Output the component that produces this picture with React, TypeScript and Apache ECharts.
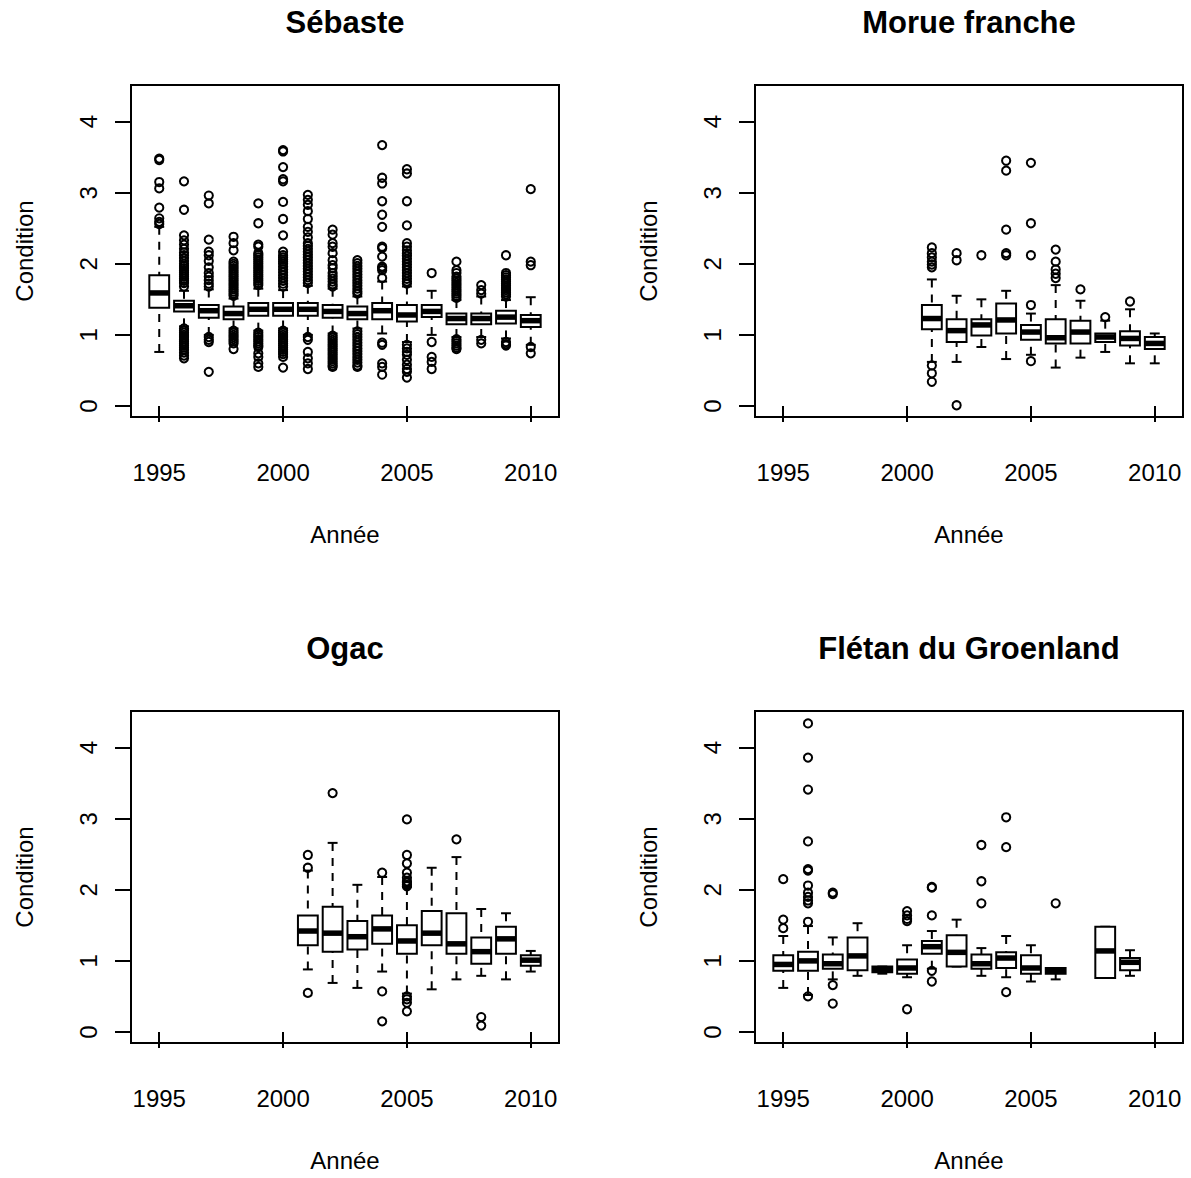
import React, { useEffect, useRef } from "react";
import * as echarts from "echarts";

// ---------- Data ----------
// stats per year: [lower whisker, Q1, median, Q3, upper whisker]

const sebasteYears = [1995, 1996, 1997, 1998, 1999, 2000, 2001, 2002, 2003, 2004, 2005, 2006, 2007, 2008, 2009, 2010];
const sebasteStats = [
  [0.76, 1.38, 1.59, 1.84, 2.52],
  [1.12, 1.33, 1.41, 1.48, 1.62],
  [1.0, 1.24, 1.34, 1.42, 1.64],
  [1.09, 1.22, 1.3, 1.4, 1.51],
  [1.06, 1.27, 1.36, 1.45, 1.65],
  [1.09, 1.27, 1.36, 1.45, 1.63],
  [1.0, 1.27, 1.36, 1.45, 1.69],
  [1.02, 1.24, 1.33, 1.42, 1.65],
  [1.09, 1.22, 1.3, 1.4, 1.54],
  [1.02, 1.22, 1.34, 1.45, 1.75],
  [0.9, 1.19, 1.28, 1.42, 1.68],
  [1.0, 1.25, 1.33, 1.42, 1.62],
  [0.97, 1.15, 1.23, 1.3, 1.49],
  [0.97, 1.15, 1.23, 1.3, 1.54],
  [0.95, 1.16, 1.25, 1.34, 1.49],
  [0.86, 1.11, 1.2, 1.28, 1.53],
];
const sebasteOutliers = [
  [3.48, 3.46, 3.15, 3.06, 2.79, 2.64, 2.59, 2.56],
  [3.16, 2.76, 2.4, 2.33, 2.27, 2.21, 2.16, 2.12, 2.08, 2.04, 2.0, 1.97, 1.94, 1.91, 1.88, 1.85, 1.82, 1.79, 1.76, 1.73, 1.68, 1.09, 1.06, 1.03, 1.0, 0.97, 0.94, 0.91, 0.88, 0.85, 0.82, 0.79, 0.75, 0.71, 0.67],
  [2.96, 2.85, 2.34, 2.17, 2.12, 2.04, 1.95, 1.87, 1.82, 1.77, 1.72, 1.68, 0.97, 0.93, 0.9, 0.48],
  [2.38, 2.29, 2.19, 2.03, 2.0, 1.97, 1.94, 1.91, 1.88, 1.85, 1.82, 1.79, 1.76, 1.73, 1.7, 1.67, 1.64, 1.61, 1.58, 1.55, 1.06, 1.03, 1.0, 0.97, 0.94, 0.91, 0.88, 0.8],
  [2.85, 2.57, 2.27, 2.24, 2.15, 2.12, 2.09, 2.06, 2.03, 2.0, 1.97, 1.94, 1.91, 1.88, 1.85, 1.82, 1.79, 1.76, 1.73, 1.7, 1.03, 1.0, 0.97, 0.94, 0.91, 0.88, 0.85, 0.83, 0.74, 0.69, 0.6, 0.55],
  [3.6, 3.58, 3.36, 3.19, 3.16, 2.87, 2.63, 2.4, 2.17, 2.12, 2.09, 2.06, 2.03, 2.0, 1.96, 1.92, 1.88, 1.84, 1.8, 1.76, 1.72, 1.68, 1.06, 1.03, 1.0, 0.97, 0.94, 0.91, 0.88, 0.85, 0.82, 0.79, 0.76, 0.73, 0.69, 0.54],
  [2.97, 2.9, 2.83, 2.74, 2.63, 2.52, 2.45, 2.37, 2.29, 2.25, 2.21, 2.17, 2.13, 2.09, 2.05, 2.01, 1.97, 1.93, 1.89, 1.85, 1.81, 1.77, 1.73, 0.97, 0.93, 0.76, 0.67, 0.6, 0.52],
  [2.48, 2.41, 2.29, 2.24, 2.15, 2.05, 1.98, 1.94, 1.87, 1.83, 1.79, 1.75, 1.71, 1.68, 0.99, 0.96, 0.93, 0.9, 0.87, 0.84, 0.81, 0.78, 0.75, 0.72, 0.69, 0.66, 0.63, 0.6, 0.57, 0.55],
  [2.05, 2.01, 1.97, 1.93, 1.89, 1.85, 1.81, 1.77, 1.73, 1.69, 1.65, 1.61, 1.58, 1.05, 1.01, 0.97, 0.93, 0.89, 0.85, 0.81, 0.77, 0.73, 0.69, 0.65, 0.61, 0.57, 0.55],
  [3.67, 3.21, 3.13, 2.88, 2.69, 2.52, 2.24, 2.22, 2.1, 1.96, 1.94, 1.91, 1.8, 0.89, 0.86, 0.6, 0.55, 0.44],
  [3.33, 3.27, 2.88, 2.54, 2.29, 2.24, 2.19, 2.15, 2.11, 2.07, 2.03, 1.99, 1.95, 1.91, 1.87, 1.83, 1.79, 1.75, 1.72, 0.86, 0.81, 0.76, 0.72, 0.65, 0.58, 0.52, 0.48, 0.4],
  [1.87, 0.9, 0.69, 0.62, 0.52],
  [2.03, 1.91, 1.87, 1.82, 1.79, 1.76, 1.73, 1.7, 1.67, 1.64, 1.61, 1.58, 1.55, 1.52, 0.94, 0.91, 0.88, 0.85, 0.82, 0.8],
  [1.7, 1.63, 1.58, 0.93, 0.88],
  [2.12, 1.87, 1.84, 1.81, 1.78, 1.75, 1.72, 1.69, 1.66, 1.63, 1.6, 1.57, 1.54, 0.9, 0.87, 0.85],
  [3.05, 2.03, 1.98, 0.83, 0.74],
];

const morueYears = [2001, 2002, 2003, 2004, 2005, 2006, 2007, 2008, 2009, 2010];
const morueStats = [
  [0.62, 1.08, 1.23, 1.42, 1.78],
  [0.62, 0.9, 1.06, 1.22, 1.55],
  [0.83, 0.99, 1.14, 1.22, 1.5],
  [0.66, 1.02, 1.21, 1.44, 1.62],
  [0.72, 0.93, 1.04, 1.14, 1.3],
  [0.54, 0.88, 0.96, 1.22, 1.7],
  [0.68, 0.88, 1.04, 1.2, 1.48],
  [0.76, 0.9, 0.97, 1.02, 1.2],
  [0.6, 0.85, 0.95, 1.05, 1.36],
  [0.6, 0.8, 0.88, 0.97, 1.02],
];
const morueOutliers = [
  [2.23, 2.15, 2.09, 2.03, 1.99, 1.95, 0.57, 0.46, 0.34],
  [2.15, 2.05, 0.01],
  [2.12],
  [3.45, 3.31, 2.48, 2.15, 2.12],
  [3.42, 2.57, 2.12, 1.42, 0.63],
  [2.2, 2.03, 1.92, 1.86, 1.8],
  [1.64],
  [1.25],
  [1.47],
  [],
];

const ogacYears = [2001, 2002, 2003, 2004, 2005, 2006, 2007, 2008, 2009, 2010];
const ogacStats = [
  [0.88, 1.22, 1.42, 1.64, 2.27],
  [0.69, 1.13, 1.39, 1.76, 2.66],
  [0.62, 1.16, 1.34, 1.56, 2.07],
  [0.85, 1.24, 1.45, 1.64, 2.18],
  [0.54, 1.1, 1.28, 1.5, 2.04],
  [0.6, 1.22, 1.39, 1.7, 2.31],
  [0.74, 1.1, 1.24, 1.67, 2.46],
  [0.79, 0.96, 1.13, 1.33, 1.73],
  [0.74, 1.1, 1.31, 1.48, 1.67],
  [0.85, 0.93, 1.01, 1.08, 1.14],
];
const ogacOutliers = [
  [2.49, 2.31, 0.55],
  [3.36],
  [],
  [2.24, 0.57, 0.15],
  [2.99, 2.49, 2.37, 2.24, 2.17, 2.12, 2.1, 2.07, 2.05, 0.5, 0.46, 0.41, 0.29],
  [],
  [2.71],
  [0.21, 0.09],
  [],
  [],
];

const fletanYears = [1995, 1996, 1997, 1998, 1999, 2000, 2001, 2002, 2003, 2004, 2005, 2006, 2008, 2009];
const fletanStats = [
  [0.62, 0.86, 0.95, 1.08, 1.35],
  [0.52, 0.86, 1.0, 1.13, 1.49],
  [0.74, 0.89, 0.96, 1.09, 1.33],
  [0.79, 0.87, 1.07, 1.33, 1.53],
  [0.82, 0.84, 0.88, 0.92, 0.92],
  [0.77, 0.82, 0.9, 1.02, 1.22],
  [0.89, 1.1, 1.2, 1.28, 1.42],
  [0.92, 0.92, 1.12, 1.36, 1.58],
  [0.79, 0.89, 0.96, 1.09, 1.18],
  [0.77, 0.9, 1.04, 1.12, 1.35],
  [0.71, 0.82, 0.9, 1.08, 1.22],
  [0.74, 0.82, 0.86, 0.9, 0.9],
  [0.76, 0.76, 1.14, 1.48, 1.48],
  [0.79, 0.87, 0.98, 1.04, 1.15],
];
const fletanOutliers = [
  [2.15, 1.58, 1.46],
  [4.34, 3.86, 3.41, 2.68, 2.29, 2.27, 2.06, 1.96, 1.9, 1.85, 1.81, 1.55, 0.5],
  [1.96, 1.94, 0.66, 0.4],
  [],
  [],
  [1.7, 1.64, 1.59, 1.56, 0.32],
  [2.04, 2.03, 1.64, 0.86, 0.71],
  [],
  [2.63, 2.12, 1.81],
  [3.02, 2.6, 0.56],
  [],
  [1.81],
  [],
  [],
];

const panelTitles = ["Sébaste", "Morue franche", "Ogac", "Flétan du Groenland"];
const xTickValues = [1995, 2000, 2005, 2010];
const yTickValues = [0, 1, 2, 3, 4];
const xAxisTitle = "Année";
const yAxisTitle = "Condition";

// ---------- Layout ----------
const FONT = '"Liberation Sans", Arial, Helvetica, sans-serif';
const grids = [
  { left: 131, top: 85, width: 428, height: 332 },
  { left: 755, top: 85, width: 428, height: 332 },
  { left: 131, top: 711, width: 428, height: 332 },
  { left: 755, top: 711, width: 428, height: 332 },
];
const X_MIN = 1993.86;
const X_MAX = 2011.14;
const Y_MIN = -0.155;
const Y_MAX = 4.515;

const panels = [
  { years: sebasteYears, stats: sebasteStats, outliers: sebasteOutliers },
  { years: morueYears, stats: morueStats, outliers: morueOutliers },
  { years: ogacYears, stats: ogacStats, outliers: ogacOutliers },
  { years: fletanYears, stats: fletanStats, outliers: fletanOutliers },
];

function renderBox(params: any, api: any) {
  const x = api.value(0);
  const lo = api.value(1);
  const q1 = api.value(2);
  const med = api.value(3);
  const q3 = api.value(4);
  const hi = api.value(5);
  const w = api.size([0.8, 0])[0];
  const pLo = api.coord([x, lo]);
  const pQ1 = api.coord([x, q1]);
  const pMed = api.coord([x, med]);
  const pQ3 = api.coord([x, q3]);
  const pHi = api.coord([x, hi]);
  const cx = pLo[0];
  const half = w / 2;
  const st = w / 4;
  const black = "#000";
  return {
    type: "group",
    children: [
      {
        type: "line",
        shape: { x1: cx, y1: pHi[1], x2: cx, y2: pQ3[1] },
        style: { stroke: black, lineWidth: 2, lineDash: [8, 7] },
      },
      {
        type: "line",
        shape: { x1: cx, y1: pLo[1], x2: cx, y2: pQ1[1] },
        style: { stroke: black, lineWidth: 2, lineDash: [8, 7] },
      },
      {
        type: "line",
        shape: { x1: cx - st, y1: pHi[1], x2: cx + st, y2: pHi[1] },
        style: { stroke: black, lineWidth: 2 },
      },
      {
        type: "line",
        shape: { x1: cx - st, y1: pLo[1], x2: cx + st, y2: pLo[1] },
        style: { stroke: black, lineWidth: 2 },
      },
      {
        type: "rect",
        shape: { x: cx - half, y: pQ3[1], width: w, height: pQ1[1] - pQ3[1] },
        style: { fill: "#fff", stroke: black, lineWidth: 2 },
      },
      {
        type: "line",
        shape: { x1: cx - half, y1: pMed[1], x2: cx + half, y2: pMed[1] },
        style: { stroke: black, lineWidth: 5.5 },
      },
    ],
  };
}

export default function App() {
  const ref = useRef<HTMLDivElement>(null);

  useEffect(() => {
    if (!ref.current) return;
    const chart = echarts.init(ref.current, null, { renderer: "svg" });

    const titles = panelTitles.map((t, i) => ({
      text: t,
      left: grids[i].left + grids[i].width / 2,
      top: grids[i].top - 78,
      textAlign: "center",
      padding: 0,
      textStyle: { fontFamily: FONT, fontSize: 31, fontWeight: "bold", color: "#000" },
    }));

    const xAxes = grids.map((_, i) => ({
      type: "value",
      gridIndex: i,
      min: X_MIN,
      max: X_MAX,
      splitLine: { show: false },
      axisLine: { show: false },
      axisTick: {
        show: true,
        inside: false,
        length: 16,
        customValues: xTickValues,
        lineStyle: { color: "#000", width: 2 },
      },
      axisLabel: {
        show: true,
        customValues: xTickValues,
        formatter: (v: number) => String(Math.round(v)),
        fontFamily: FONT,
        fontSize: 24,
        color: "#000",
        margin: 43,
      },
      name: xAxisTitle,
      nameLocation: "middle",
      nameGap: 105,
      nameTextStyle: { fontFamily: FONT, fontSize: 24, color: "#000" },
    }));

    const yAxes = grids.map((_, i) => ({
      type: "value",
      gridIndex: i,
      min: Y_MIN,
      max: Y_MAX,
      splitLine: { show: false },
      axisLine: { show: false },
      axisTick: {
        show: true,
        inside: false,
        length: 16,
        customValues: yTickValues,
        lineStyle: { color: "#000", width: 2 },
      },
      axisLabel: {
        show: true,
        customValues: yTickValues,
        formatter: (v: number) => String(Math.round(v)),
        rotate: 90,
        fontFamily: FONT,
        fontSize: 24,
        color: "#000",
        margin: 31,
      },
      name: yAxisTitle,
      nameLocation: "middle",
      nameRotate: 90,
      nameGap: 95,
      nameTextStyle: { fontFamily: FONT, fontSize: 24, color: "#000" },
    }));

    const series: any[] = [];
    panels.forEach((p, i) => {
      series.push({
        type: "custom",
        xAxisIndex: i,
        yAxisIndex: i,
        renderItem: renderBox,
        encode: { x: 0, y: [1, 2, 3, 4, 5] },
        data: p.years.map((y, k) => [y, ...p.stats[k]]),
        silent: true,
      });
      const pts: number[][] = [];
      p.years.forEach((y, k) => {
        p.outliers[k].forEach((v) => pts.push([y, v]));
      });
      series.push({
        type: "scatter",
        xAxisIndex: i,
        yAxisIndex: i,
        symbol: "circle",
        symbolSize: 8.2,
        data: pts,
        silent: true,
        itemStyle: { color: "rgba(0,0,0,0)", borderColor: "#000", borderWidth: 2, opacity: 1 },
      });
    });

    chart.setOption({
      animation: false,
      backgroundColor: "#fff",
      title: titles,
      grid: grids.map((g) => ({
        ...g,
        show: true,
        borderColor: "#000",
        borderWidth: 2,
        backgroundColor: "transparent",
        containLabel: false,
      })),
      xAxis: xAxes,
      yAxis: yAxes,
      series,
    });

    return () => {
      chart.dispose();
    };
  }, []);

  return (
    <div
      ref={ref}
      style={{ position: "absolute", left: 0, top: 0, width: 1191, height: 1178, background: "#fff" }}
    />
  );
}
